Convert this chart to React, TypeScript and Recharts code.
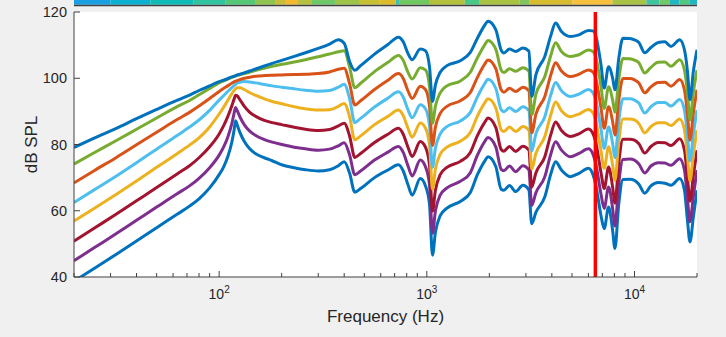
import React from 'react';
import { ComposedChart, Line, XAxis, YAxis, ReferenceLine, ReferenceArea } from 'recharts';

const freqs = [20,25,32,40,50,63,72,80,90,100,105,110,115,118,120,122,126,132,140,150,165,180,200,230,260,300,340,375,400,
  425,450,480,560,650,730,770,810,850,930,985,1030,1065,1100,1160,1250,1450,1620,1750,1900,1970,2150,2280,2350,2500,2680,2900,3100,3200,3350,3700,3950,4170,4450,4900,5400,6000,6300,6500,6900,7150,7500,7850,8050,8400,8800,9500,10000,10500,11200,12000,13000,14000,15000,16500,17400,18000,18500,19200,20000];

const s1 = [79.1,81.9,84.9,87.8,90.6,93.4,94.9,96.3,97.7,99.0,99.4,99.9,100.4,100.6,100.8,101.0,101.2,101.6,102.2,102.8,103.7,104.5,105.4,106.6,107.7,109.0,110.3,111.6,110.6,
  105.0,102.4,103.8,107.3,110.2,112.4,111.0,107.6,105.6,108.8,108.3,103.5,93.0,98.0,101.8,103.8,105.3,107.8,112.0,116.0,117.2,114.6,108.5,107.6,108.8,108.1,109.1,108.2,94.5,101.0,106.6,112.8,116.7,114.1,112.6,113.1,114.4,114.3,113.0,104.0,97.0,103.5,100.0,96.5,106.0,112.1,112.0,111.6,110.8,107.7,109.3,110.8,111.0,109.6,111.6,108.6,102.0,93.5,102.0,108.6];
const s2 = [74.1,77.5,81.2,84.6,88.0,91.5,93.3,95.0,96.9,98.6,99.2,99.7,100.3,100.5,100.7,100.8,101.1,101.4,101.8,102.4,103.0,103.6,104.2,104.9,105.6,106.5,107.3,108.0,108.3,
  103.3,97.1,98.5,102.0,104.8,106.9,105.4,101.9,99.8,103.2,102.5,97.6,86.4,91.6,95.6,97.7,99.2,101.8,106.1,110.1,111.4,108.7,102.5,101.7,102.9,102.1,103.2,102.2,89.0,95.1,100.5,106.8,110.7,108.1,106.6,107.1,108.5,108.1,106.6,97.5,90.9,97.4,93.4,89.7,99.7,106.0,105.9,105.5,104.7,101.6,103.3,104.8,104.9,103.6,105.6,102.5,95.6,87.4,95.7,102.5];
const s3 = [68.4,72.1,76.1,79.9,83.7,87.6,89.7,91.6,93.9,96.0,96.9,97.7,98.5,98.9,99.1,99.3,99.6,100.0,100.3,100.6,100.8,100.9,101.0,101.1,101.2,101.4,101.9,102.7,103.0,
  98.3,91.9,93.2,96.6,99.4,101.4,99.9,96.3,93.9,97.6,96.6,91.6,79.7,85.3,89.4,91.5,93.2,95.7,100.2,104.3,105.5,102.8,96.5,95.8,97.0,96.0,97.3,96.2,83.5,89.1,94.5,100.9,104.7,102.2,100.5,101.2,102.5,101.9,100.1,91.0,84.9,91.4,86.9,82.8,93.4,99.9,99.9,99.5,98.6,95.6,97.4,98.7,98.8,97.6,99.6,96.5,89.1,81.3,89.4,96.5];
const s4 = [62.5,66.3,70.5,74.5,78.6,82.8,85.3,87.4,90.3,93.4,94.7,96.0,97.2,97.8,98.2,98.5,98.8,99.0,98.9,98.6,98.1,97.7,97.3,96.8,96.4,96.1,96.3,97.3,98.2,
  93.8,86.6,87.9,91.3,94.0,95.9,94.3,90.6,88.1,92.0,90.8,85.7,73.1,78.9,83.2,85.4,87.1,89.7,94.3,98.4,99.7,96.9,90.5,89.9,91.1,90.0,91.4,90.2,78.0,83.2,88.4,94.9,98.7,96.2,94.5,95.2,96.6,95.7,93.7,84.5,78.8,85.3,80.3,76.0,87.1,93.8,93.8,93.4,92.5,89.5,91.4,92.7,92.7,91.6,93.6,90.4,82.7,75.1,83.1,90.4];
const s5 = [56.9,60.7,65.0,69.0,73.1,77.3,79.8,82.0,85.3,89.2,91.2,93.3,95.3,96.3,96.8,97.1,97.1,96.6,95.7,94.8,93.8,93.0,92.3,91.4,90.8,90.4,90.5,91.5,92.4,
  88.3,81.4,82.6,86.0,88.5,90.4,88.7,85.0,82.2,86.5,85.0,79.8,66.5,72.6,77.1,79.2,81.0,83.6,88.5,92.6,93.8,91.0,84.5,83.9,85.3,83.9,85.4,84.3,72.6,77.3,82.4,88.9,92.8,90.2,88.4,89.2,90.6,89.6,87.3,78.0,72.8,79.3,73.7,69.1,80.9,87.7,87.7,87.4,86.3,83.5,85.4,86.6,86.6,85.7,87.7,84.4,76.3,69.0,76.9,84.4];
const s6 = [50.8,54.7,59.0,63.0,67.0,71.2,73.6,76.0,79.3,83.2,85.6,88.4,91.6,93.7,94.9,94.7,93.5,91.6,89.8,88.5,87.3,86.6,86.0,85.2,84.6,84.2,84.5,85.6,86.4,
  82.5,76.1,77.3,80.6,83.1,84.9,83.1,79.3,76.4,80.9,79.2,73.9,59.9,66.2,70.9,73.1,74.9,77.6,82.6,86.7,88.0,85.1,78.5,78.0,79.4,77.9,79.5,78.3,67.1,71.4,76.3,82.9,86.8,84.2,82.4,83.2,84.7,83.4,80.9,71.5,66.7,73.2,67.1,62.3,74.6,81.6,81.6,81.3,80.2,77.4,79.4,80.6,80.5,79.7,81.7,78.3,69.9,62.9,70.6,78.3];
const s7 = [44.9,48.8,53.1,57.1,61.1,65.2,67.5,69.8,73.0,76.8,79.2,82.2,86.2,89.4,91.2,90.3,88.3,86.0,84.1,82.7,81.5,80.7,80.0,79.2,78.7,78.3,78.6,79.6,80.5,
  76.8,70.9,72.0,75.3,77.7,79.4,77.6,73.7,70.5,75.3,73.3,67.9,53.2,59.9,64.7,66.9,68.9,71.5,76.7,80.9,82.1,79.2,72.5,72.1,73.5,71.8,73.6,72.3,61.6,65.4,70.3,77.0,80.8,78.3,76.3,77.3,78.7,77.2,74.4,65.0,60.7,67.2,60.6,55.4,68.3,75.5,75.6,75.3,74.1,71.4,73.5,74.5,74.4,73.7,75.7,72.3,63.4,56.7,64.3,72.3];
const s8 = [38.7,42.6,46.9,50.9,54.9,59.0,61.4,63.6,66.9,70.9,73.2,76.3,80.6,84.3,87.2,86.0,83.6,81.0,78.8,77.2,76.0,75.1,73.9,73.0,72.4,72.0,72.4,73.6,74.8,
  71.3,65.6,66.7,70.0,72.3,73.9,72.0,68.0,64.7,69.7,67.5,62.0,46.6,53.5,58.5,60.8,62.8,65.5,70.8,75.0,76.3,73.3,66.5,66.2,67.6,65.8,67.7,66.3,56.1,59.5,64.2,71.0,74.8,72.3,70.3,71.3,72.8,71.0,68.0,58.5,54.6,61.1,54.0,48.6,62.0,69.4,69.5,69.2,68.0,65.3,67.5,68.5,68.3,67.7,69.7,66.2,57.0,50.6,58.0,66.2];

const seriesKeys = ['s8','s7','s6','s5','s4','s3','s2','s1'];
const seriesColors: Record<string,string> = {
  s1: '#0072BD', s2: '#77AC30', s3: '#D95319', s4: '#4DBEEE',
  s5: '#EDB120', s6: '#A2142F', s7: '#7E2F8E', s8: '#0072BD',
};

const xTicks = [20,30,40,50,60,70,80,90,100,200,300,400,500,600,700,800,900,1000,2000,3000,4000,5000,6000,7000,8000,9000,10000,20000];
const yTicks = [40,60,80,100,120];
const markerFreq = 6480;

const stripStops = [20,29.9,46.6,75,106.9,148.9,185.9,207.5,239.8,280,361,476,594,709,741,1034,1523,1798,2800,3127,5032,7834,11420,13190,14730,16450,18380,20000];
const stripColors = ['#1aa0e2','#0cb0d0','#10bcb8','#30c3a0','#55c878','#90c450','#c8bc38','#f2b830','#b8c040','#6cc868','#9cc448','#c6c032','#dcbc2c','#40c0b0','#70c860','#b2c03c','#48c888','#a8c242','#80c460','#d8bc30','#f8c03c','#a8c244','#40c4a0','#70c868','#20b8c0','#50c880','#20b4c4'];

const data = freqs.map((f, i) => ({ f, s1: s1[i], s2: s2[i], s3: s3[i], s4: s4[i], s5: s5[i], s6: s6[i], s7: s7[i], s8: s8[i] }));

const FONT = '"Liberation Sans", Arial, Helvetica, sans-serif';
const AX = '#404040';
const TXT = '#262626';

const XTick = (props: any) => {
  const { x, y, payload } = props;
  const v = payload.value as number;
  const lg = Math.log10(v);
  const exp = Math.round(lg);
  const major = Math.abs(lg - exp) < 1e-6;
  return (
    <g>
      <line x1={x} x2={x} y1={y} y2={y - (major ? 6 : 4)} stroke={AX} strokeWidth={1} />
      {major && exp >= 2 && (
        <text x={x} y={y + 22} textAnchor="middle" fontSize={14} fill={TXT} fontFamily={FONT}>
          10<tspan dy={-6.5} fontSize={10}>{exp}</tspan>
        </text>
      )}
    </g>
  );
};

const YTick = (props: any) => {
  const { x, y, payload } = props;
  return (
    <g>
      <line x1={x} x2={x + 6} y1={y} y2={y} stroke={AX} strokeWidth={1} />
      <text x={x - 7} y={y} dy="0.36em" textAnchor="end" fontSize={14.5} fill={TXT} fontFamily={FONT}>{payload.value}</text>
    </g>
  );
};

export default function App() {
  return (
    <div style={{ position: 'absolute', left: 0, top: 0, width: 726, height: 337, background: '#f0f0f0' }}>
      <ComposedChart width={726} height={337} data={data} margin={{ top: 12, right: 29, bottom: 0, left: 14 }}>
        <XAxis dataKey="f" type="number" scale="log" domain={[20, 20000]} allowDataOverflow ticks={xTicks} interval={0}
          tick={<XTick />} tickLine={false} tickSize={0} tickMargin={0} height={60}
          axisLine={{ stroke: AX, strokeWidth: 1 }}
          label={{ value: 'Frequency (Hz)', position: 'insideBottom', offset: 15, fill: TXT, fontSize: 17, fontFamily: FONT }} />
        <YAxis type="number" domain={[40, 120]} allowDataOverflow ticks={yTicks} interval={0}
          tick={<YTick />} tickLine={false} tickSize={0} tickMargin={0} width={60}
          axisLine={{ stroke: AX, strokeWidth: 1 }}
          label={{ value: 'dB SPL', angle: -90, position: 'insideLeft', offset: 14, dx: 3, fill: TXT, fontSize: 17, fontFamily: FONT, style: { textAnchor: 'middle' } }} />
        <ReferenceArea x1={20} x2={20000} y1={40} y2={120} fill="#ffffff" fillOpacity={1} stroke="none" ifOverflow="visible" />
        {stripColors.map((c, i) => (
          <ReferenceArea key={'st' + i} x1={stripStops[i]} x2={stripStops[i + 1]} y1={122.2} y2={126} fill={c} fillOpacity={1} stroke="none" ifOverflow="visible" />
        ))}
        <ReferenceLine y={122.0} stroke={AX} strokeWidth={1.5} ifOverflow="visible" />
        {seriesKeys.map((k) => (
          <Line key={k} dataKey={k} type="monotone" stroke={seriesColors[k]} strokeWidth={3} dot={false} activeDot={false} isAnimationActive={false} />
        ))}
        <ReferenceLine x={markerFreq} stroke="#ff0000" strokeWidth={3.5} ifOverflow="visible" />
      </ComposedChart>
    </div>
  );
}
